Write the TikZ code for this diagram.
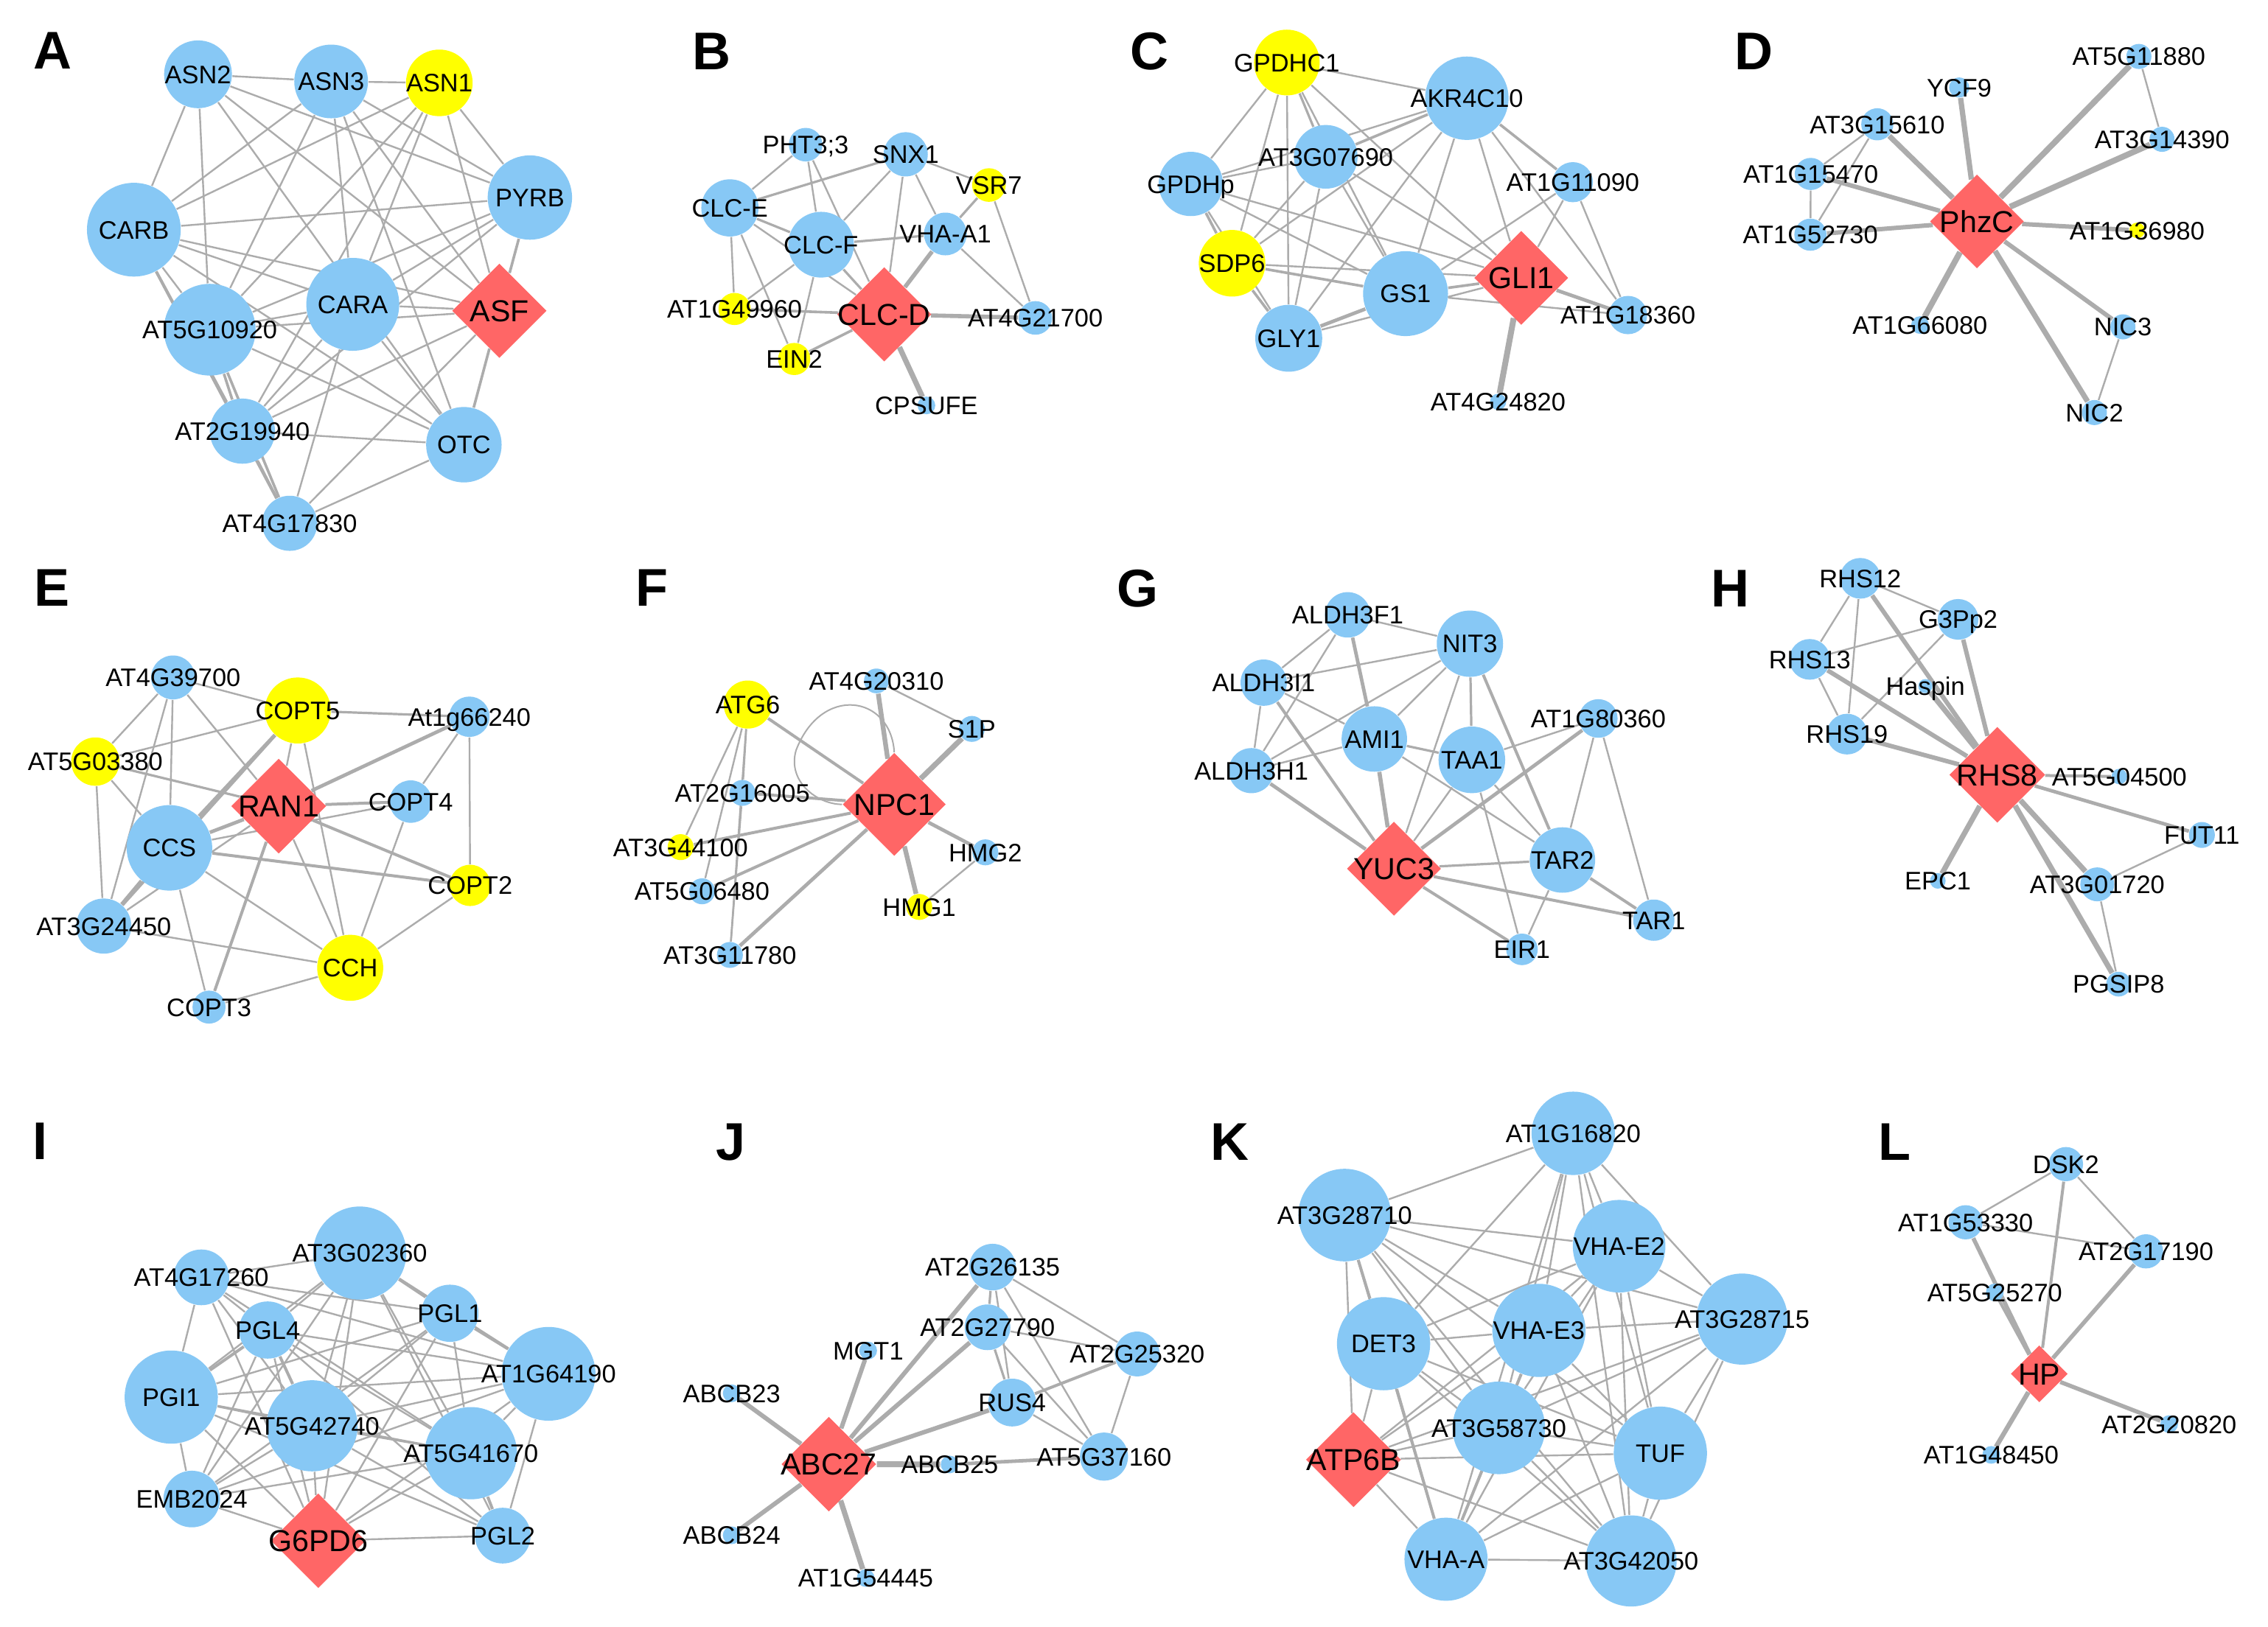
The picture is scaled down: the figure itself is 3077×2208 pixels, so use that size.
\documentclass[tikz,border=0pt]{standalone}
\usepackage{fontspec}
\setmainfont{Liberation Sans}
\usetikzlibrary{shapes.geometric}
\pgfdeclarelayer{bottom}
\pgfdeclarelayer{edges}
\pgfsetlayers{bottom,edges,main}
\definecolor{nblue}{RGB}{135,200,245}
\definecolor{nyel}{RGB}{255,255,0}
\definecolor{nred}{RGB}{255,102,102}
\definecolor{egray}{RGB}{172,172,172}
\tikzset{
 nd/.style={circle, draw=none, inner sep=0pt},
 dia/.style={diamond, fill=nred, draw=none, inner sep=0pt, aspect=1},
 lb/.style={inner sep=0pt, text height=6.2pt, text depth=0pt, font=\fontsize{8.6pt}{10pt}\selectfont},
 lbc/.style={inner sep=0pt, text height=7.4pt, text depth=0pt, font=\fontsize{10.3pt}{12pt}\selectfont},
 panel/.style={inner sep=0pt, font=\fontsize{18pt}{20pt}\selectfont\bfseries},
 edge/.style={draw=egray},
}
\begin{document}
\begin{tikzpicture}[x=0.25pt,y=-0.25pt]
\useasboundingbox (0,0) rectangle (3077,2208);
\begin{pgfonlayer}{bottom}
\fill[white] (0,0) rectangle (3077,2208);
\end{pgfonlayer}
% panel letters
\node[panel] (lA) at (71,69) {A};
\node[panel] (lB) at (965,70) {B};
\node[panel] (lC) at (1559,70) {C};
\node[panel] (lD) at (2379,70) {D};
\node[panel] (lE) at (71,798) {E};
\node[panel] (lF) at (884,798) {F};
\node[panel] (lG) at (1543,799) {G};
\node[panel] (lH) at (2347,799) {H};
\node[panel] (lI) at (55,1549) {I};
\node[panel] (lJ) at (992,1550) {J};
\node[panel] (lK) at (1668,1550) {K};
\node[panel] (lL) at (2570,1550) {L};

% ---------------- A
\begin{scope}[shift={(0,0)},x=0.12438pt,y=-0.12118pt]
\foreach \n/\x/\y/\d/\c in {a1/540/208/23/nblue, a2/903/228/25/nblue, a3/1198/232/22.6/nyel, a4/1445/553/28.6/nblue, a5/365/643/31.8/nblue, a6/962/852/31.5/nblue, a7/572/923/31.1/nblue, a8/661/1207/22.1/nblue, a9/1265/1245/25.6/nblue, a10/790/1465/18.7/nblue}
  \node[nd,fill=\c,minimum size=\d pt] (\n) at (\x,\y) {};
\node[dia,minimum size=32.1pt] (aD) at (1362,870) {};
\begin{pgfonlayer}{edges}
\foreach \u/\v/\w in {a1/a2/0.6, a2/a3/0.6, a1/a5/0.6, a1/a7/0.6, a1/a4/0.6, a1/aD/0.6, a1/a9/0.6, a2/a5/0.6, a2/a7/0.6, a2/a6/0.6, a2/a4/0.6, a2/aD/0.6, a2/a9/0.6, a3/a4/0.6, a3/aD/0.6, a3/a6/0.6, a3/a7/0.6, a3/a5/0.6, a3/a8/0.6, a5/a4/0.6, a5/aD/0.6, a5/a6/0.6, a5/a7/0.6, a5/a8/0.9, a5/a10/0.9, a5/a9/0.6, a4/aD/0.9, a4/a6/0.6, a4/a7/0.6, a4/a8/0.6, a6/aD/0.6, a6/a7/0.6, a6/a8/0.6, a6/a10/0.6, a6/a9/0.6, aD/a7/0.6, aD/a8/0.6, aD/a9/0.9, aD/a10/0.6, a7/a8/0.9, a7/a10/0.9, a7/a9/0.6, a8/a10/0.9, a8/a9/0.6, a10/a9/0.6}
  \draw[edge,line width=\w pt] (\u) -- (\v);
\end{pgfonlayer}
\foreach \n/\t in {a1/ASN2, a2/ASN3, a3/ASN1, a4/PYRB, a5/CARB, a6/CARA, a7/AT5G10920, a8/AT2G19940, a9/OTC, a10/AT4G17830}
  \node[lb] (\n-t) at (\n) {\t};
\node[lbc] (aD-t) at (aD) {ASF};
\end{scope}

% ---------------- B
\begin{scope}[shift={(760,0)},x=0.12118pt,y=-0.12118pt]
\foreach \n/\x/\y/\d/\c in {b1/687/405/11.4/nblue, b2/967/432/15/nblue, b3/1200/518/11.4/nyel, b4/475/582/19.4/nblue, b5/730/685/22.3/nblue, b6/1078/655/14.5/nblue, b7/488/865/10.9/nyel, b8/1330/890/11.4/nblue, b9/655/1005/10.9/nyel, b10/1025/1135/6/nblue}
  \node[nd,fill=\c,minimum size=\d pt] (\n) at (\x,\y) {};
\node[dia,minimum size=32.1pt] (bD) at (907,880) {};
\begin{pgfonlayer}{edges}
\foreach \u/\v/\w in {b1/b4/0.6, b1/b5/0.6, b1/bD/0.6, b4/b2/0.8, b4/b5/0.8, b4/bD/0.6, b4/b7/0.6, b4/b9/0.6, b2/b5/0.6, b2/bD/0.6, b2/b6/0.6, b2/b3/0.6, b5/b6/0.8, b5/bD/0.8, b5/b7/0.6, b5/b9/0.6, b3/b6/0.8, b3/b8/0.6, b6/bD/1.4, b6/b8/0.6, bD/b8/1.4, bD/b7/0.9, bD/b9/0.9, bD/b10/1.8}
  \draw[edge,line width=\w pt] (\u) -- (\v);
\end{pgfonlayer}
\foreach \n/\t in {b1/PHT3;3, b2/SNX1, b3/VSR7, b4/CLC-E, b5/CLC-F, b6/VHA-A1, b7/AT1G49960, b8/AT4G21700, b9/EIN2, b10/CPSUFE}
  \node[lb] (\n-t) at (\n) {\t};
\node[lbc] (bD-t) at (bD) {CLC-D};
\end{scope}

% ---------------- C
\begin{scope}[shift={(1500,0)},x=0.13075pt,y=-0.12118pt]
\foreach \n/\x/\y/\d/\c in {c1/470/175/22.3/nyel, c2/937/275/28.3/nblue, c3/571/439/21.6/nblue, c4/221/515/21.8/nblue, c5/1212/510/13.6/nblue, c6/328/737/22.6/nyel, c7/778/822/28.8/nblue, c8/1355/882/13/nblue, c9/475/947/22.7/nblue, c10/1018/1125/5.5/nblue}
  \node[nd,fill=\c,minimum size=\d pt] (\n) at (\x,\y) {};
\node[dia,minimum size=32pt] (cD) at (1078,778) {};
\begin{pgfonlayer}{edges}
\foreach \u/\v/\w in {c1/c2/0.6, c1/c4/0.6, c1/c6/0.6, c1/c9/0.6, c1/c3/0.8, c1/c7/0.6, c1/cD/0.6, c2/c3/0.9, c2/c4/0.6, c2/c6/0.6, c2/c9/0.6, c2/c7/0.6, c2/cD/0.6, c2/c5/0.9, c2/c8/0.6, c3/c4/0.6, c3/c6/0.6, c3/c9/0.6, c3/c7/0.6, c3/cD/0.6, c4/c6/0.9, c4/c7/0.6, c4/cD/0.6, c4/c9/0.6, c6/c7/0.9, c6/c9/0.9, c6/cD/0.6, c5/cD/0.6, c5/c7/0.6, c5/c8/0.6, c7/cD/0.9, c7/c9/1.2, c9/cD/0.6, cD/c8/1.2, cD/c10/2.0, c7/c8/0.6}
  \draw[edge,line width=\w pt] (\u) -- (\v);
\end{pgfonlayer}
\foreach \n/\t in {c1/GPDHC1, c2/AKR4C10, c3/AT3G07690, c4/GPDHp, c5/AT1G11090, c6/SDP6, c7/GS1, c8/AT1G18360, c9/GLY1, c10/AT4G24820}
  \node[lb] (\n-t) at (\n) {\t};
\node[lbc] (cD-t) at (cD) {GLI1};
\end{scope}

% ---------------- D
\begin{scope}[shift={(2320,0)},x=0.12071pt,y=-0.12118pt]
\foreach \n/\x/\y/\d/\c in {d1/1205/158/8.5/nblue, d2/700/245/6.8/nblue, d3/470/348/10.9/nblue, d4/1270/390/8.5/nblue, d5/283/487/10.9/nblue, d6/282/657/10.9/nblue, d7/1200/645/5.3/nyel, d8/590/910/6/nblue, d9/1160/915/8.5/nblue, d10/1080/1155/8.5/nblue}
  \node[nd,fill=\c,minimum size=\d pt] (\n) at (\x,\y) {};
\node[dia,minimum size=31.9pt] (dD) at (750,620) {};
\begin{pgfonlayer}{edges}
\foreach \u/\v/\w in {dD/d2/1.8, dD/d3/1.8, dD/d5/1.5, dD/d6/1.5, dD/d1/2.0, dD/d4/2.0, dD/d7/1.5, dD/d8/2.0, dD/d9/1.5, dD/d10/1.8, d3/d5/0.6, d3/d6/0.6, d5/d6/0.6, d1/d4/0.6, d9/d10/0.6}
  \draw[edge,line width=\w pt] (\u) -- (\v);
\end{pgfonlayer}
\foreach \n/\t in {d1/AT5G11880, d2/YCF9, d3/AT3G15610, d4/AT3G14390, d5/AT1G15470, d6/AT1G52730, d7/AT1G36980, d8/AT1G66080, d9/NIC3, d10/NIC2}
  \node[lb] (\n-t) at (\n) {\t};
\node[lbc] (dD-t) at (dD) {PhzC};
\end{scope}

% ---------------- E
\begin{scope}[shift={(0,740)},x=0.12438pt,y=-0.11798pt]
\foreach \n/\x/\y/\d/\c in {e1/472/380/14.9/nblue, e2/812/475/22.4/nyel, e3/1280/493/13.7/nblue, e4/260/622/16.4/nyel, e5/1120/737/14.4/nblue, e6/462/870/29/nblue, e7/1282/978/14/nyel, e8/283/1095/18.7/nblue, e9/955/1215/22.4/nyel, e10/570/1328/11.2/nblue}
  \node[nd,fill=\c,minimum size=\d pt] (\n) at (\x,\y) {};
\node[dia,minimum size=32.3pt] (eD) at (760,750) {};
\begin{pgfonlayer}{edges}
\foreach \u/\v/\w in {e1/e2/0.6, e1/e4/0.6, e1/e6/0.6, e1/eD/0.6, e1/e8/0.6, e2/e3/0.8, e2/e4/0.6, e2/e6/1.2, e2/eD/0.6, e2/e9/0.6, e2/e8/0.9, e3/eD/1.2, e3/e5/0.6, e3/e7/0.6, e4/eD/0.8, e4/e6/0.6, e4/e8/0.6, eD/e5/1.0, eD/e6/1.2, eD/e7/1.0, eD/e9/0.6, eD/e10/1.0, eD/e8/0.6, e5/e6/0.6, e5/e9/0.6, e6/e7/1.0, e6/e8/1.4, e6/e9/0.6, e6/e10/0.6, e7/e9/0.6, e8/e9/0.6, e10/e9/0.6}
  \draw[edge,line width=\w pt] (\u) -- (\v);
\end{pgfonlayer}
\foreach \n/\t in {e1/AT4G39700, e2/COPT5, e3/At1g66240, e4/AT5G03380, e5/COPT4, e6/CCS, e7/COPT2, e8/AT3G24450, e9/CCH, e10/COPT3}
  \node[lb] (\n-t) at (\n) {\t};
\node[lbc] (eD-t) at (eD) {RAN1};
\end{scope}

% ---------------- F
\begin{scope}[shift={(760,740)},x=0.12118pt,y=-0.11798pt]
\foreach \n/\x/\y/\d/\c in {f1/885/390/8.4/nblue, f2/525/458/16.3/nyel, f3/1152/528/8.8/nblue, f4/510/712/8.8/nblue, f5/337/868/8.8/nyel, f6/1190/883/8.8/nblue, f7/397/995/8.8/nblue, f8/1005/1040/8.8/nyel, f9/475/1178/8.8/nblue}
  \node[nd,fill=\c,minimum size=\d pt] (\n) at (\x,\y) {};
\node[dia,minimum size=35pt] (fD) at (935,745) {};
\begin{pgfonlayer}{edges}
\foreach \u/\v/\w in {f2/fD/1.0, f2/f4/0.6, f2/f5/0.6, f2/f7/0.6, f2/f9/0.6, f1/fD/1.6, f1/f3/0.6, f3/fD/1.8, f4/fD/1.0, f5/fD/1.0, f7/fD/1.0, f9/fD/1.2, fD/f6/1.2, fD/f8/1.6, f6/f8/0.6, f4/f9/0.6}
  \draw[edge,line width=\w pt] (\u) -- (\v);
\draw[edge,line width=0.5pt] (fD.north) .. controls (925,430) and (730,400) .. (660,590) .. controls (635,680) and (720,745) .. (fD.west);
\end{pgfonlayer}
\foreach \n/\t in {f1/AT4G20310, f2/ATG6, f3/S1P, f4/AT2G16005, f5/AT3G44100, f6/HMG2, f7/AT5G06480, f8/HMG1, f9/AT3G11780}
  \node[lb] (\n-t) at (\n) {\t};
\node[lbc] (fD-t) at (fD) {NPC1};
\end{scope}

% ---------------- G
\begin{scope}[shift={(1500,740)},x=0.13075pt,y=-0.11798pt]
\foreach \n/\x/\y/\d/\c in {g1/628/200/15.4/nblue, g2/945/283/22.5/nblue, g3/410/395/15.7/nblue, g4/1278/498/13.1/nblue, g5/697/557/22.2/nblue, g6/950/617/22.6/nblue, g7/378/648/15.3/nblue, g8/1185/905/22.2/nblue, g9/1422/1078/14/nblue, g10/1080/1162/10.7/nblue}
  \node[nd,fill=\c,minimum size=\d pt] (\n) at (\x,\y) {};
\node[dia,minimum size=32pt] (gD) at (748,930) {};
\begin{pgfonlayer}{edges}
\foreach \u/\v/\w in {g1/g2/0.6, g1/g3/0.6, g1/g5/1.2, g1/g7/0.6, g2/g3/0.6, g2/g5/0.6, g2/g6/0.8, g2/g8/1.0, g2/gD/0.6, g2/g7/0.6, g3/g7/0.6, g3/g5/0.6, g3/gD/1.0, g5/g7/0.6, g5/g6/0.8, g5/gD/1.4, g5/g8/0.6, g6/gD/0.6, g6/g4/0.6, g6/g8/0.6, g6/g10/0.6, g4/gD/1.2, g4/g8/0.6, g4/g9/0.6, g7/gD/1.2, gD/g8/0.8, gD/g9/1.0, gD/g10/1.0, g8/g9/1.0, g8/g10/0.6}
  \draw[edge,line width=\w pt] (\u) -- (\v);
\end{pgfonlayer}
\foreach \n/\t in {g1/ALDH3F1, g2/NIT3, g3/ALDH3I1, g4/AT1G80360, g5/AMI1, g6/TAA1, g7/ALDH3H1, g8/TAR2, g9/TAR1, g10/EIR1}
  \node[lb] (\n-t) at (\n) {\t};
\node[lbc] (gD-t) at (gD) {YUC3};
\end{scope}

% ---------------- H
\begin{scope}[shift={(2320,740)},x=0.12071pt,y=-0.11798pt]
\foreach \n/\x/\y/\d/\c in {h1/422/95/13.8/nblue, h2/697/213/13.8/nblue, h3/280/328/13.8/nblue, h4/605/405/4.8/nblue, h5/385/543/13.8/nblue, h6/1150/665/5.3/nblue, h7/1382/833/8.8/nblue, h8/640/965/5.3/nblue, h9/1088/975/11.5/nblue, h10/1148/1262/8.4/nblue}
  \node[nd,fill=\c,minimum size=\d pt] (\n) at (\x,\y) {};
\node[dia,minimum size=32.6pt] (hD) at (807,660) {};
\begin{pgfonlayer}{edges}
\foreach \u/\v/\w in {h1/h2/0.6, h1/h3/0.6, h1/h5/0.6, h1/hD/1.5, h2/h3/0.6, h2/h5/0.6, h2/hD/1.5, h3/h5/0.6, h3/hD/1.5, h4/hD/1.8, h5/hD/1.5, hD/h6/1.0, hD/h7/1.2, hD/h8/1.8, hD/h9/1.8, hD/h10/1.8, h9/h7/0.6, h9/h10/0.6}
  \draw[edge,line width=\w pt] (\u) -- (\v);
\end{pgfonlayer}
\foreach \n/\t in {h1/RHS12, h2/G3Pp2, h3/RHS13, h4/Haspin, h5/RHS19, h6/AT5G04500, h7/FUT11, h8/EPC1, h9/AT3G01720, h10/PGSIP8}
  \node[lb] (\n-t) at (\n) {\t};
\node[lbc] (hD-t) at (hD) {RHS8};
\end{scope}

% ---------------- I
\begin{scope}[shift={(0,1480)},x=0.12438pt,y=-0.11606pt]
\foreach \n/\x/\y/\d/\c in {i1/981/475/31.6/nblue, i2/549/546/18.9/nblue, i3/1227/651/19.4/nblue, i4/730/700/19.4/nblue, i5/1496/828/31.8/nblue, i6/467/896/31.6/nblue, i7/851/980/30.9/nblue, i8/1284/1060/31.3/nblue, i9/523/1194/19.2/nblue, i10/1371/1301/18.9/nblue}
  \node[nd,fill=\c,minimum size=\d pt] (\n) at (\x,\y) {};
\node[dia,minimum size=32.2pt] (iD) at (868,1316) {};
\begin{pgfonlayer}{edges}
\foreach \u/\v/\w in {i1/i2/0.6, i1/i4/0.6, i1/i3/1.0, i1/i5/0.6, i1/i6/0.6, i1/i7/0.6, i1/i8/0.6, i1/iD/0.6, i1/i10/0.6, i1/i9/0.6, i2/i6/0.6, i2/i4/0.6, i2/i7/0.6, i2/i5/0.6, i2/i8/0.6, i2/iD/0.6, i2/i3/0.6, i3/i5/1.0, i3/i6/0.6, i3/i7/0.6, i3/i8/0.6, i3/iD/0.6, i3/i9/0.6, i4/i6/1.0, i4/i5/0.6, i4/i7/1.0, i4/i8/0.6, i4/iD/0.6, i4/i10/0.6, i4/i9/0.6, i5/i6/0.6, i5/i7/0.6, i5/i8/0.6, i5/iD/0.6, i5/i10/0.6, i5/i9/0.6, i6/i7/0.6, i6/i8/0.6, i6/iD/0.6, i6/i9/0.6, i6/i10/0.6, i7/i8/0.6, i7/iD/0.6, i7/i9/0.6, i7/i10/0.6, i8/iD/0.6, i8/i10/1.0, i8/i9/0.6, i9/iD/0.6, iD/i10/0.6}
  \draw[edge,line width=\w pt] (\u) -- (\v);
\end{pgfonlayer}
\foreach \n/\t in {i1/AT3G02360, i2/AT4G17260, i3/PGL1, i4/PGL4, i5/AT1G64190, i6/PGI1, i7/AT5G42740, i8/AT5G41670, i9/EMB2024, i10/PGL2}
  \node[lb] (\n-t) at (\n) {\t};
\node[lbc] (iD-t) at (iD) {G6PD6};
\end{scope}

% ---------------- J
\begin{scope}[shift={(760,1480)},x=0.12118pt,y=-0.11606pt]
\foreach \n/\x/\y/\d/\c in {j1/1210/516/15.8/nblue, j2/1196/692/15.5/nblue, j3/862/760/6/nblue, j4/1615/770/15.2/nblue, j5/480/885/6/nblue, j6/1265/912/16.2/nblue, j7/1522/1070/16.3/nblue, j8/1090/1093/6/nblue, j9/480/1300/6/nblue, j10/855/1425/6/nblue}
  \node[nd,fill=\c,minimum size=\d pt] (\n) at (\x,\y) {};
\node[dia,minimum size=32.2pt] (jD) at (752,1092) {};
\begin{pgfonlayer}{edges}
\foreach \u/\v/\w in {jD/j5/1.5, jD/j3/1.5, jD/j1/1.5, jD/j2/1.5, jD/j6/1.5, jD/j8/2.0, jD/j9/1.5, jD/j10/1.8, j6/j4/1.0, j1/j2/0.8, j1/j6/0.6, j1/j4/0.6, j1/j7/0.6, j2/j6/0.8, j2/j7/0.6, j2/j4/0.6, j6/j7/0.6, j8/j7/1.2, j4/j7/0.6}
  \draw[edge,line width=\w pt] (\u) -- (\v);
\end{pgfonlayer}
\foreach \n/\t in {j1/AT2G26135, j2/AT2G27790, j3/MGT1, j4/AT2G25320, j5/ABCB23, j6/RUS4, j7/AT5G37160, j8/ABCB25, j9/ABCB24, j10/AT1G54445}
  \node[lb] (\n-t) at (\n) {\t};
\node[lbc] (jD-t) at (jD) {ABC27};
\end{scope}

% ---------------- K
\begin{scope}[shift={(1500,1480)},x=0.13075pt,y=-0.11606pt]
\foreach \n/\x/\y/\d/\c in {k1/1213/125/28.3/nblue, k2/620/364/31.4/nblue, k3/1332/455/31.4/nblue, k4/1651/668/30.9/nblue, k5/721/740/31.6/nblue, k6/1124/701/31.6/nblue, k7/1020/986/31.4/nblue, k8/1439/1060/31.6/nblue, k9/883/1370/28.2/nblue, k10/1363/1375/30.9/nblue}
  \node[nd,fill=\c,minimum size=\d pt] (\n) at (\x,\y) {};
\node[dia,minimum size=32.3pt] (kD) at (643,1079) {};
\begin{pgfonlayer}{edges}
\foreach \u/\v/\w in {k1/k2/0.6, k1/k3/0.6, k1/k4/0.6, k1/k5/0.6, k1/k6/0.6, k1/k7/0.6, k1/k8/0.6, k1/k9/0.6, k1/k10/0.6, k2/k3/0.6, k2/k4/0.6, k2/k5/1.0, k2/k6/0.6, k2/k7/0.6, k2/k8/0.6, k2/k9/0.6, k2/k10/0.6, k2/kD/0.6, k3/k4/0.6, k3/k5/0.6, k3/k6/0.6, k3/k7/0.6, k3/k8/0.6, k3/k10/0.6, k3/kD/0.6, k3/k9/0.6, k4/k6/0.6, k4/k7/0.6, k4/k8/0.6, k4/k9/0.6, k4/k10/0.6, k4/kD/0.6, k5/k6/0.6, k5/k7/0.6, k5/k8/0.6, k5/k9/1.0, k5/k10/0.6, k5/kD/0.6, k6/k7/0.6, k6/k8/0.6, k6/k9/1.0, k6/k10/0.6, k6/kD/0.6, k7/k8/0.6, k7/k9/0.6, k7/k10/0.6, k7/kD/0.6, k8/k9/0.6, k8/k10/0.6, k8/kD/0.6, k9/k10/0.6, k9/kD/0.6, k10/kD/0.6}
  \draw[edge,line width=\w pt] (\u) -- (\v);
\end{pgfonlayer}
\foreach \n/\t in {k1/AT1G16820, k2/AT3G28710, k3/VHA-E2, k4/AT3G28715, k5/DET3, k6/VHA-E3, k7/AT3G58730, k8/TUF, k9/VHA-A, k10/AT3G42050}
  \node[lb] (\n-t) at (\n) {\t};
\node[lbc] (kD-t) at (kD) {ATP6B};
\end{scope}

% ---------------- L
\begin{scope}[shift={(2320,1480)},x=0.12071pt,y=-0.11606pt]
\foreach \n/\x/\y/\d/\c in {l1/1000/215/11.6/nblue, l2/718/385/11.6/nblue, l3/1225/470/11.6/nblue, l4/800/590/6/nblue, l5/1290/975/6/nblue, l6/790/1065/6/nblue}
  \node[nd,fill=\c,minimum size=\d pt] (\n) at (\x,\y) {};
\node[dia,minimum size=19.4pt] (lD) at (925,828) {};
\begin{pgfonlayer}{edges}
\foreach \u/\v/\w in {l1/l2/0.6, l1/l3/0.6, l1/lD/1.0, l2/l3/0.6, l2/lD/1.4, l4/lD/1.0, l3/lD/1.4, lD/l5/1.4, lD/l6/1.6}
  \draw[edge,line width=\w pt] (\u) -- (\v);
\end{pgfonlayer}
\foreach \n/\t in {l1/DSK2, l2/AT1G53330, l3/AT2G17190, l4/AT5G25270, l5/AT2G20820, l6/AT1G48450}
  \node[lb] (\n-t) at (\n) {\t};
\node[lbc] (lD-t) at (lD) {HP};
\end{scope}
\end{tikzpicture}
\end{document}
